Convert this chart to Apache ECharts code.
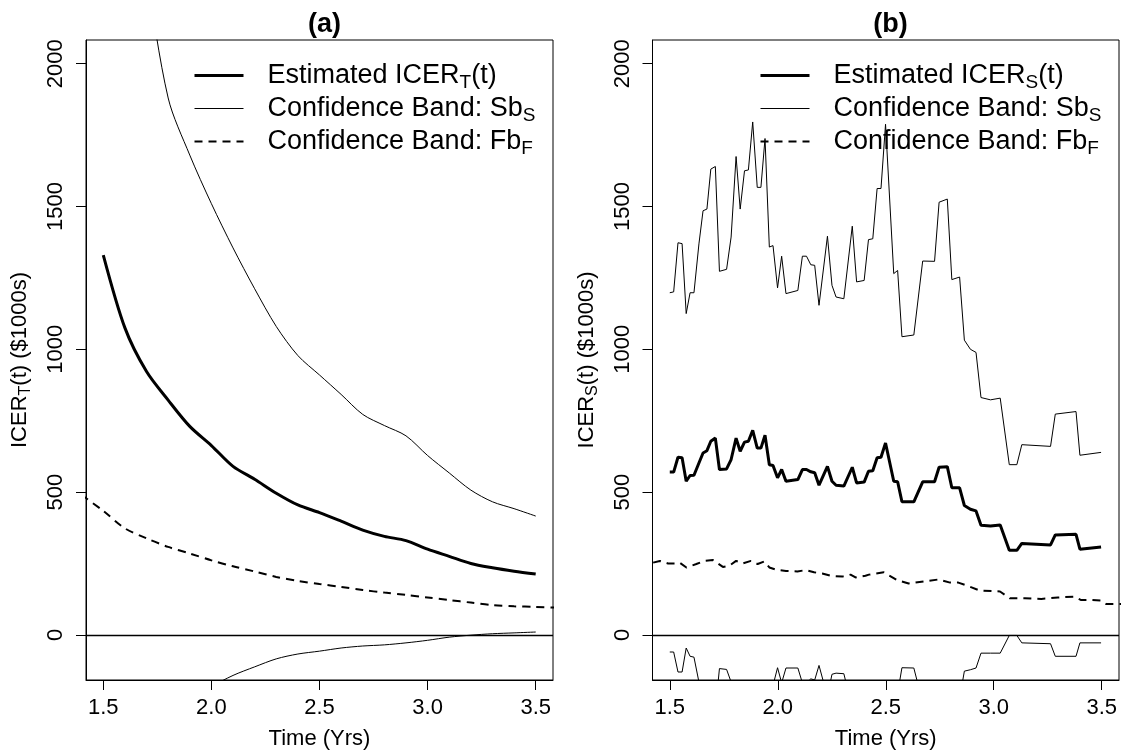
<!DOCTYPE html>
<html>
<head>
<meta charset="utf-8">
<title>ICER curves</title>
<script src="https://cdn.jsdelivr.net/npm/echarts@6/dist/echarts.min.js"></script>
<style>
  html, body { margin: 0; padding: 0; background: #fff; }
  #main { width: 1123px; height: 755px; }
</style>
</head>
<body>
<div id="main"></div>
<script>
    // panel (a): smooth curves
    var tA = [1.5, 1.6, 1.7, 1.8, 1.9, 2.0, 2.1, 2.2, 2.3, 2.4, 2.5, 2.6, 2.7, 2.8, 2.9, 3.0, 3.1, 3.2, 3.3, 3.4, 3.5];
    var estA = [1330, 1075, 922, 822, 730, 663, 590, 545, 496, 455, 428, 398, 367, 345, 330, 300, 275, 250, 235, 223, 213];
    var upA = [3700, 2950, 2330, 1880, 1680, 1510, 1355, 1212, 1080, 978, 910, 842, 772, 733, 697, 628, 567, 507, 466, 442, 416];
    var loA = [-1000, -780, -540, -330, -235, -182, -142, -112, -84, -67, -57, -46, -39, -35, -28, -19, -8, -1, 4, 7, 10];
    var tFbA = [1.4, 1.5, 1.6, 1.7, 1.8, 1.9, 2.0, 2.1, 2.2, 2.3, 2.4, 2.5, 2.6, 2.7, 2.8, 2.9, 3.0, 3.1, 3.2, 3.3, 3.4, 3.5, 3.6];
    var fbA = [490, 434, 373, 338, 308, 285, 261, 240, 222, 203, 189, 178, 168, 157, 148, 140, 131, 122, 113, 104, 100, 98, 95];

    // panel (b): step-like curves
    var tB = [1.500, 1.518, 1.538, 1.557, 1.576, 1.594, 1.612, 1.635, 1.654, 1.672,
              1.690, 1.711, 1.730, 1.763, 1.784, 1.807, 1.826, 1.846, 1.864, 1.884,
              1.905, 1.922, 1.941, 1.961, 1.978, 1.999, 2.018, 2.038, 2.093, 2.114,
              2.133, 2.153, 2.171, 2.191, 2.230, 2.251, 2.270, 2.306, 2.345, 2.365,
              2.400, 2.420, 2.440, 2.460, 2.478, 2.499, 2.537, 2.555, 2.575, 2.630,
              2.671, 2.726, 2.747, 2.785, 2.806, 2.842, 2.864, 2.892, 2.918, 2.941,
              2.985, 3.030, 3.072, 3.107, 3.130, 3.263, 3.285, 3.381, 3.399, 3.497];
    var estB = [570, 570, 622, 620, 538, 558, 559, 602, 637, 645,
                678, 689, 579, 581, 614, 689, 643, 675, 678, 716,
                654, 654, 699, 596, 593, 550, 579, 538, 544, 579,
                579, 571, 568, 524, 590, 538, 524, 521, 587, 532,
                535, 573, 575, 620, 622, 672, 538, 536, 466, 466,
                536, 536, 587, 589, 515, 515, 453, 440, 434, 384,
                381, 385, 296, 296, 320, 315, 350, 352, 300, 308];
    var upB = [1198, 1201, 1373, 1370, 1125, 1198, 1198, 1369, 1485, 1491,
               1631, 1640, 1273, 1280, 1393, 1675, 1491, 1625, 1628, 1796,
               1567, 1567, 1738, 1358, 1363, 1215, 1326, 1195, 1206, 1326,
               1326, 1296, 1294, 1154, 1396, 1224, 1183, 1177, 1431, 1236,
               1241, 1384, 1387, 1563, 1563, 1788, 1265, 1276, 1044, 1050,
               1309, 1308, 1515, 1526, 1244, 1253, 1032, 1000, 989, 831,
               823, 829, 596, 596, 666, 660, 773, 782, 629, 639];
    var loB = [-60, -60, -130, -130, -46, -75, -78, -165, -211, -201,
               -275, -262, -118, -121, -165, -297, -205, -275, -272, -364,
               -259, -259, -340, -166, -177, -115, -168, -116, -116, -168,
               -168, -154, -158, -107, -216, -138, -134, -136, -257, -172,
               -171, -238, -237, -323, -319, -444, -189, -204, -115, -116,
               -237, -236, -341, -348, -214, -223, -127, -122, -116, -64,
               -64, -64, -2, -2, -28, -31, -75, -75, -28, -28];
    var tFbB = [1.423, 1.454, 1.492, 1.523, 1.546, 1.577, 1.623, 1.661, 1.700, 1.746,
                1.776, 1.807, 1.838, 1.876, 1.907, 1.938, 1.961, 1.999, 2.038, 2.091,
                2.130, 2.168, 2.206, 2.245, 2.299, 2.337, 2.360, 2.406, 2.422, 2.491,
                2.552, 2.606, 2.675, 2.744, 2.798, 2.836, 2.882, 2.936, 3.029, 3.075,
                3.144, 3.220, 3.297, 3.374, 3.405, 3.451, 3.497, 3.520, 3.566, 3.600];
    var fbB = [253, 259, 250, 250, 253, 236, 248, 259, 262, 238,
               242, 259, 250, 259, 248, 257, 236, 227, 224, 222,
               227, 219, 215, 207, 204, 211, 201, 207, 211, 219,
               192, 180, 187, 194, 183, 183, 171, 155, 152, 128,
               128, 126, 131, 134, 122, 122, 120, 108, 108, 108];

    var xTicks = [1.5, 2.0, 2.5, 3.0, 3.5];
    var yTicks = [0, 500, 1000, 1500, 2000];

    var legendText = {
        estA: 'Estimated ICER{sub|T}(t)',
        estB: 'Estimated ICER{sub|S}(t)',
        sbA: 'Confidence Band: Sb{sub|S}',
        sbB: 'Confidence Band: Sb{sub|S}',
        fbA: 'Confidence Band: Fb{sub|F}',
        fbB: 'Confidence Band: Fb{sub|F}'
    };

    var FONT = 'Liberation Sans';

    function zip(t, v) {
        return t.map(function (x, i) { return [x, v[i]]; });
    }

    function xAxisOf(gi) {
        return {
            type: 'value', gridIndex: gi, min: 1.42, max: 3.58,
            splitLine: {show: false},
            axisLine: {show: true, onZero: false, lineStyle: {color: '#000', width: 1}},
            axisTick: {show: true, length: 10, customValues: xTicks, lineStyle: {color: '#000'}},
            axisLabel: {customValues: xTicks, formatter: function (v) { return v.toFixed(1); },
                fontSize: 22, color: '#000', margin: 17, fontFamily: FONT},
            name: 'Time (Yrs)', nameLocation: 'middle', nameGap: 48,
            nameTextStyle: {fontSize: 22, color: '#000', fontFamily: FONT}
        };
    }

    function yAxisOf(gi, sub) {
        return {
            type: 'value', gridIndex: gi, min: -158, max: 2083,
            splitLine: {show: false},
            axisLine: {show: true, lineStyle: {color: '#000', width: 1}},
            axisTick: {show: true, length: 10, customValues: yTicks, lineStyle: {color: '#000'}},
            axisLabel: {customValues: yTicks, rotate: 90, formatter: function (v) { return String(v); },
                fontSize: 22, color: '#000', margin: 19, fontFamily: FONT},
            name: 'ICER{sub|' + sub + '}(t) ($1000s)', nameLocation: 'middle', nameGap: 52,
            nameTextStyle: {fontSize: 22, color: '#000', fontFamily: FONT,
                rich: {sub: {fontSize: 16, color: '#000', fontFamily: FONT, verticalAlign: 'bottom', lineHeight: 28}}}
        };
    }

    // legend rows: thick solid, thin solid, dashed; the symbol dot is hidden
    function legendOf(left, names) {
        return {
            data: [
                {name: names[0], lineStyle: {width: 3, type: 'solid'}},
                {name: names[1], lineStyle: {width: 1, type: 'solid'}},
                {name: names[2], lineStyle: {width: 2, type: [8, 6]}}
            ],
            orient: 'vertical', left: left, top: 59, padding: 0,
            itemWidth: 49, itemHeight: 20, itemGap: 0, selectedMode: false,
            itemStyle: {color: 'rgba(0,0,0,0)', borderWidth: 0},
            formatter: function (n) { return legendText[n]; },
            textStyle: {fontSize: 27, color: '#000', fontFamily: FONT, lineHeight: 30, padding: [0, 0, 0, 19],
                rich: {sub: {fontSize: 19, color: '#000', fontFamily: FONT, verticalAlign: 'bottom', lineHeight: 33}}}
        };
    }

    var zeroLine = {
        silent: true, symbol: ['none', 'none'], label: {show: false},
        lineStyle: {color: '#000', width: 1.3, type: 'solid'},
        data: [{yAxis: 0}]
    };

    function lineOf(name, gi, data, width, dash, smooth) {
        return {
            name: name, type: 'line', xAxisIndex: gi, yAxisIndex: gi, data: data,
            symbol: 'none', smooth: smooth, clip: true,
            lineStyle: {color: '#000', width: width, type: dash || 'solid'},
            itemStyle: {color: '#000'}
        };
    }

    var chart = echarts.init(document.getElementById('main'), null, {renderer: 'canvas'});

    var seriesList = [
        lineOf('estA', 0, zip(tA, estA), 3, null, 0.3),
        lineOf('sbA', 0, zip(tA, upA), 1, null, 0.3),
        lineOf('sbA', 0, zip(tA, loA), 1, null, 0.3),
        lineOf('fbA', 0, zip(tFbA, fbA), 2, [8, 6], 0.3),
        lineOf('estB', 1, zip(tB, estB), 3, null, false),
        lineOf('sbB', 1, zip(tB, upB), 1, null, false),
        lineOf('sbB', 1, zip(tB, loB), 1, null, false),
        lineOf('fbB', 1, zip(tFbB, fbB), 2, [8, 6], false)
    ];
    seriesList[0].markLine = zeroLine;
    seriesList[4].markLine = zeroLine;

    var option = {
        animation: false,
        backgroundColor: '#fff',
        title: [
            {text: '(a)', left: 319.5, top: 6, textAlign: 'center',
                textStyle: {fontSize: 27, fontWeight: 'bold', color: '#000', fontFamily: FONT}},
            {text: '(b)', left: 885.5, top: 6, textAlign: 'center',
                textStyle: {fontSize: 27, fontWeight: 'bold', color: '#000', fontFamily: FONT}}
        ],
        legend: [
            legendOf(193, ['estA', 'sbA', 'fbA']),
            legendOf(759, ['estB', 'sbB', 'fbB'])
        ],
        grid: [
            {left: 86, top: 40, width: 467, height: 643, show: true, borderColor: '#000', borderWidth: 1, backgroundColor: 'transparent'},
            {left: 652.5, top: 40, width: 466.5, height: 643, show: true, borderColor: '#000', borderWidth: 1, backgroundColor: 'transparent'}
        ],
        xAxis: [xAxisOf(0), xAxisOf(1)],
        yAxis: [yAxisOf(0, 'T'), yAxisOf(1, 'S')],
        series: seriesList
    };

    chart.setOption(option);
</script>
</body>
</html>
